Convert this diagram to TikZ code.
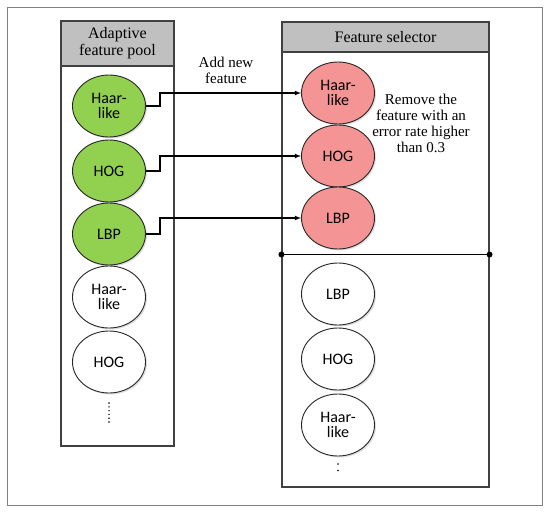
\documentclass[tikz,border=0pt]{standalone}
\usepackage{fontspec}
\setmainfont{Liberation Serif}
\newfontfamily\featfont{Carlito}
\usetikzlibrary{shapes.geometric, shadows}

\definecolor{featgreen}{HTML}{92D050}
\definecolor{featred}{HTML}{F49494}
\definecolor{headgray}{HTML}{C0C0C0}

\begin{document}
\begin{tikzpicture}[
  x=1pt, y=-1pt,
  feat/.style={ellipse, draw=black!85, fill=white, line width=0.9pt, minimum width=73pt, minimum height=62pt, inner sep=0pt,
    font=\featfont\fontsize{16}{15}\selectfont, align=center,
    drop shadow={shadow xshift=1.5pt, shadow yshift=-1.5pt, opacity=0.25}},
  panel/.style={rectangle, draw=black!75, line width=1.1pt, inner sep=0pt},
  head/.style={rectangle, draw=black!75, fill=headgray, line width=1.1pt, inner sep=0pt, font=\fontsize{16}{17}\selectfont, align=center},
  link/.style={-latex, line width=1.1pt},
  lbl/.style={font=\fontsize{15}{16}\selectfont, align=center},
  more/.style={line width=1.6pt, line cap=round}
]
  \useasboundingbox (0,0) rectangle (550,512);
  \draw[draw=black!50, line width=1pt] (7,7) rectangle (542,505);

  % adaptive feature pool
  \node[panel, minimum width=113pt, minimum height=425pt] (pool) at (117.5,233.5) {};
  \node[head, minimum width=113pt, minimum height=45pt] (poolhead) at (117.5,43.5) {Adaptive\\feature pool};
  \node[feat, fill=featgreen] (pa) at (109,106) {Haar-\\like};
  \node[feat, fill=featgreen] (pb) at (109,171) {HOG};
  \node[feat, fill=featgreen] (pc) at (109,234) {LBP};
  \node[feat] (pd) at (109,297) {Haar-\\like};
  \node[feat] (pe) at (109,362) {HOG};
  \draw[more, dash pattern=on 0pt off 3.8pt] (109,403) -- (109,422);

  % feature selector
  \node[panel, minimum width=207pt, minimum height=465pt] (sel) at (385.5,254.5) {};
  \node[head, minimum width=207pt, minimum height=30pt] (selhead) at (385.5,37) {Feature selector};
  \node[feat, fill=featred] (sa) at (338,93) {Haar-\\like};
  \node[feat, fill=featred] (sb) at (338,156) {HOG};
  \node[feat, fill=featred] (sc) at (338,218) {LBP};
  \node[feat] (sd) at (338,294) {LBP};
  \node[feat] (se) at (338,359) {HOG};
  \node[feat] (sf) at (338,425) {Haar-\\like};
  \draw[more, dash pattern=on 0pt off 6.5pt] (338,464) -- (338,477);

  % divider
  \draw[line width=1.1pt] (sel.west) -- (sel.east);
  \fill (sel.west) circle (3pt) (sel.east) circle (3pt);

  % pool -> selector
  \draw[link] (pa.east) -- ++(14,0) |- (sa.west);
  \draw[link] (pb.east) -- ++(14,0) |- (sb.west);
  \draw[link] (pc.east) -- ++(14,0) |- (sc.west);

  \node[lbl] (addlbl) at (226,70) {Add new\\feature};
  \node[lbl] (remlbl) at (421,123) {Remove the\\feature with an\\error rate higher\\than 0.3};
\end{tikzpicture}
\end{document}
